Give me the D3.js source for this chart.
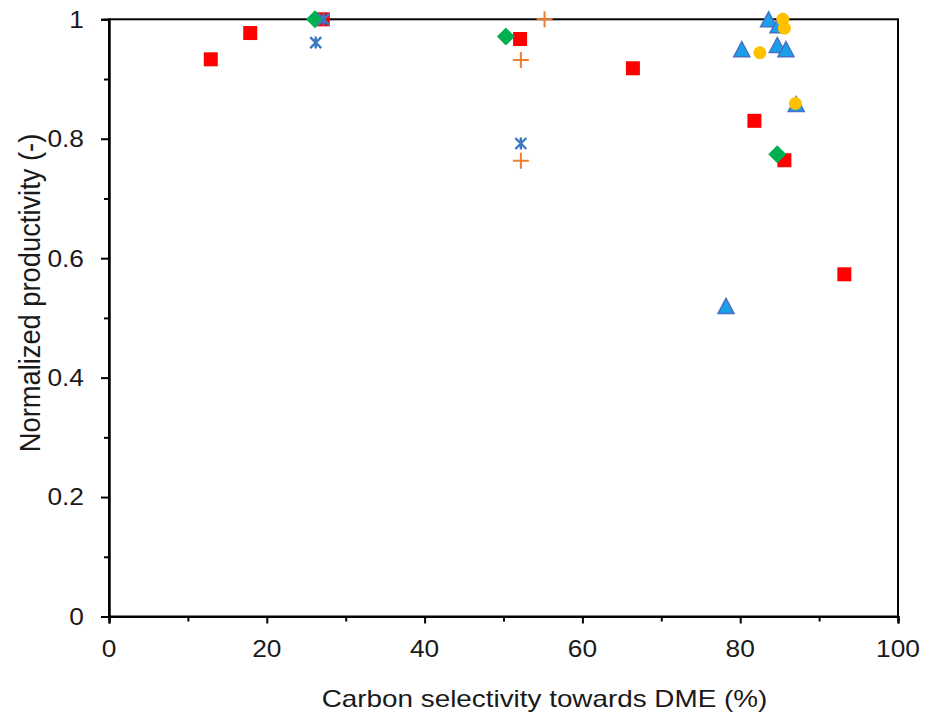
<!DOCTYPE html>
<html><head><meta charset="utf-8">
<script src="https://cdn.jsdelivr.net/npm/d3@7"></script>
<style>
html,body{margin:0;padding:0;background:#fff;}
text{font-family:"Liberation Sans",Arial,sans-serif;fill:#1a1a1a;}
</style></head>
<body><svg id="c" width="936" height="713"></svg>
<script>
// ---- data ----
const xTicks = [0, 20, 40, 60, 80, 100];
const xMinor = [10, 30, 50, 70, 90];
const yTicks = [0, 0.2, 0.4, 0.6, 0.8, 1];
const yMinor = [0.1, 0.3, 0.5, 0.7, 0.9];
const yTickLabels = ["0", "0.2", "0.4", "0.6", "0.8", "1"];

const squaresX = [12.9, 17.9, 27.1, 52.1, 66.4, 81.8, 85.6, 93.2];
const squaresY = [0.933, 0.977, 1.0, 0.967, 0.918, 0.830, 0.764, 0.573];
const diamondsX = [26.1, 50.3, 84.7];
const diamondsY = [1.0, 0.971, 0.774];
const starsX = [27.2, 26.2, 52.2];
const starsY = [1.0, 0.961, 0.792];
const plusX = [55.2, 52.2, 52.2];
const plusY = [1.0, 0.932, 0.763];
const trianglesX = [83.6, 84.8, 80.2, 84.7, 85.8, 87.1, 78.2];
const trianglesY = [1.0, 0.99, 0.950, 0.957, 0.950, 0.858, 0.520];
const circlesX = [85.4, 85.6, 82.5, 87.0];
const circlesY = [1.0, 0.985, 0.944, 0.859];

// ---- layout ----
const svg = d3.select("#c");
const L = 109, R = 898, T = 19.3, B = 616.5;
const x = d3.scaleLinear().domain([0, 100]).range([L, R]);
const y = d3.scaleLinear().domain([0, 1]).range([B, T]);
const SX = 1.12; // horizontal stretch of the reference's text

// frame
svg.append("rect").attr("x", L).attr("y", T).attr("width", R - L).attr("height", B - T)
  .attr("fill", "none").attr("stroke", "#000").attr("stroke-width", 2);

// axes (lines and ticks)
const gx = svg.append("g").attr("transform", `translate(0,${B})`)
  .call(d3.axisBottom(x).tickValues(xTicks).tickSize(7).tickFormat(""));
const gxm = svg.append("g").attr("transform", `translate(0,${B})`)
  .call(d3.axisBottom(x).tickValues(xMinor).tickSize(5).tickFormat(""));
const gy = svg.append("g").attr("transform", `translate(${L},0)`)
  .call(d3.axisLeft(y).tickValues(yTicks).tickSize(8).tickFormat(""));
const gym = svg.append("g").attr("transform", `translate(${L},0)`)
  .call(d3.axisLeft(y).tickValues(yMinor).tickSize(5).tickFormat(""));
[gx, gxm, gy, gym].forEach(g => {
  g.select(".domain").attr("stroke", "#000").attr("stroke-width", 2);
  g.selectAll(".tick line").attr("stroke", "#000").attr("stroke-width", 2);
  g.selectAll(".tick text").remove();
});

// tick labels
svg.append("g").selectAll("text").data(xTicks).enter().append("text")
  .attr("transform", d => `translate(${x(d)},${B + 40}) scale(${SX},1)`)
  .attr("text-anchor", "middle").style("font-size", "23.5px").text(d => String(d));
svg.append("g").selectAll("text").data(yTicks).enter().append("text")
  .attr("transform", d => `translate(84,${y(d)}) scale(${SX},1)`)
  .attr("dy", "0.358em")
  .attr("text-anchor", "end").style("font-size", "23.5px").text((d, i) => yTickLabels[i]);

// axis titles
svg.append("text").attr("transform", "translate(544.5,707) scale(1.16,1)").attr("text-anchor", "middle")
  .style("font-size", "24px").text("Carbon selectivity towards DME (%)");
svg.append("text").attr("transform", "translate(39.5,293) scale(1.08,1) rotate(-90)").attr("text-anchor", "middle")
  .style("font-size", "27.3px").text("Normalized productivity (-)");

// ---- marks ----
const pts = (xs, ys) => xs.map((v, i) => [v, ys[i]]);
const plot = svg.append("g");

plot.selectAll(".sq").data(pts(squaresX, squaresY)).enter().append("rect")
  .attr("x", d => x(d[0]) - 7).attr("y", d => y(d[1]) - 7).attr("width", 14).attr("height", 14)
  .attr("fill", "#FF0000");

plot.selectAll(".dm").data(pts(diamondsX, diamondsY)).enter().append("path")
  .attr("d", "M0,-9L9,0L0,9L-9,0Z")
  .attr("transform", d => `translate(${x(d[0])},${y(d[1])})`)
  .attr("fill", "#00B050");

plot.selectAll(".st").data(pts(starsX, starsY)).enter().append("path")
  .attr("d", "M-5.5,-5.5L5.5,5.5M-5.5,5.5L5.5,-5.5M0,-6L0,6")
  .attr("transform", d => `translate(${x(d[0])},${y(d[1])})`)
  .attr("stroke", "#3C78C0").attr("stroke-width", 2.4).attr("fill", "none");

plot.selectAll(".pl").data(pts(plusX, plusY)).enter().append("path")
  .attr("d", "M-8,0L8,0M0,-8L0,8")
  .attr("transform", d => `translate(${x(d[0])},${y(d[1])})`)
  .attr("stroke", "#ED7D31").attr("stroke-width", 2).attr("fill", "none");

plot.selectAll(".tr").data(pts(trianglesX, trianglesY)).enter().append("path")
  .attr("d", "M0,-7.5L8,7.5L-8,7.5Z")
  .attr("transform", d => `translate(${x(d[0])},${y(d[1])})`)
  .attr("fill", "#1AA0E8").attr("stroke", "#4472C4").attr("stroke-width", 1.5);

plot.selectAll(".ci").data(pts(circlesX, circlesY)).enter().append("circle")
  .attr("cx", d => x(d[0])).attr("cy", d => y(d[1])).attr("r", 6.5)
  .attr("fill", "#FFC000");
</script></body></html>
